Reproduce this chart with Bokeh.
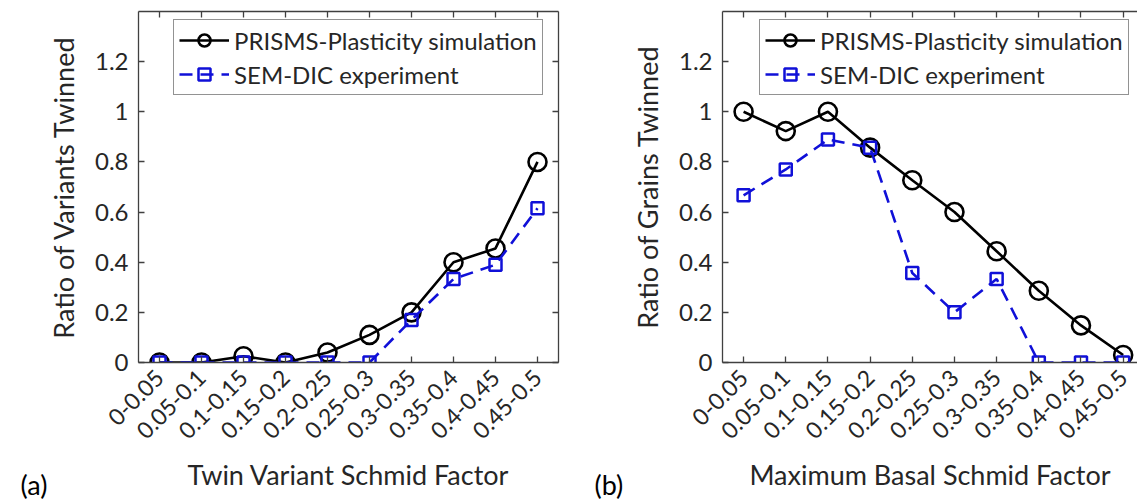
import math
from bokeh.plotting import figure
from bokeh.models import FixedTicker, LinearAxis, Range1d, Legend, LegendItem, Title
from bokeh.layouts import row
from bokeh.embed import file_html
from bokeh.resources import INLINE

# ---------------- data ----------------
categories = ["0-0.05", "0.05-0.1", "0.1-0.15", "0.15-0.2", "0.2-0.25",
              "0.25-0.3", "0.3-0.35", "0.35-0.4", "0.4-0.45", "0.45-0.5"]
x_pos = list(range(1, len(categories) + 1))

a_sim = [0, 0, 0.025, 0, 0.04, 0.11, 0.2, 0.4, 0.455, 0.8]
a_exp = [0, 0, 0, 0, 0, 0, 0.17, 0.333, 0.39, 0.615]
b_sim = [1.0, 0.923, 1.0, 0.857, 0.727, 0.6, 0.444, 0.286, 0.148, 0.03]
b_exp = [0.667, 0.77, 0.889, 0.857, 0.357, 0.2, 0.333, 0, 0, 0]

y_ticks = [0, 0.2, 0.4, 0.6, 0.8, 1.0, 1.2]
y_tick_labels = ["0", "0.2", "0.4", "0.6", "0.8", "1", "1.2"]
series_names = ["PRISMS-Plasticity simulation", "SEM-DIC experiment"]

FONT = "Lato"
TXT = "#262626"
AX = "#404040"
BLUE = "#1010d8"


def style_axis(ax, labels=True):
    ax.axis_line_color = AX
    ax.axis_line_width = 1.3
    ax.major_tick_line_color = AX
    ax.major_tick_line_width = 1.3
    ax.major_tick_in = 6
    ax.major_tick_out = 0
    ax.minor_tick_line_color = None
    ax.major_label_text_font = FONT
    ax.major_label_text_color = TXT
    ax.axis_label_text_font = FONT
    ax.axis_label_text_color = TXT
    ax.axis_label_text_font_style = "normal"
    if not labels:
        ax.major_label_text_color = None
        ax.major_label_text_font_size = "1px"
        ax.major_label_standoff = 0


def make_panel(sim, exp, xlabel, ylabel, tag, tag_offset, width, border_left,
               border_right, x_end, right_axis, legend_left):
    p = figure(width=width, height=504, output_backend="svg",
               toolbar_location=None, x_range=Range1d(0.5, x_end),
               y_range=Range1d(0, 1.4), min_border_left=border_left,
               min_border_right=border_right, min_border_top=11,
               min_border_bottom=142, outline_line_color=None)
    p.xgrid.visible = False
    p.ygrid.visible = False
    p.background_fill_color = "white"
    p.border_fill_color = "white"

    xt = FixedTicker(ticks=x_pos)
    yt = FixedTicker(ticks=y_ticks)

    xa = p.xaxis[0]
    xa.ticker = xt
    xa.major_label_overrides = {x: c for x, c in zip(x_pos, categories)}
    style_axis(xa)
    xa.major_label_orientation = math.pi / 4
    xa.major_label_text_font_size = "23px"
    xa.major_label_standoff = 11
    xa.axis_label = xlabel
    xa.axis_label_text_font_size = "27px"
    xa.axis_label_standoff = 9

    ya = p.yaxis[0]
    ya.ticker = yt
    ya.major_label_overrides = {t: l for t, l in zip(y_ticks, y_tick_labels)}
    ya.axis_label = ylabel
    style_axis(ya)
    ya.major_label_text_font_size = "24px"
    ya.major_label_standoff = 10
    ya.axis_label_text_font_size = "27px"
    ya.axis_label_standoff = 12

    top = LinearAxis(ticker=xt)
    style_axis(top, labels=False)
    p.add_layout(top, "above")
    if right_axis:
        rgt = LinearAxis(ticker=yt)
        style_axis(rgt, labels=False)
        p.add_layout(rgt, "right")

    l1 = p.line(x_pos, sim, line_color="black", line_width=2.6)
    m1 = p.scatter(x_pos, sim, marker="circle", size=18, fill_color=None,
                   line_color="black", line_width=2.6)
    l2 = p.line(x_pos, exp, line_color=BLUE, line_width=2.6, line_dash="13 8")
    m2 = p.scatter(x_pos, exp, marker="square", size=12, fill_color=None,
                   line_color=BLUE, line_width=2.5)

    legend = Legend(items=[LegendItem(label=series_names[0], renderers=[l1, m1]),
                           LegendItem(label=series_names[1], renderers=[l2, m2])],
                    location=(legend_left, 267),
                    label_text_font=FONT, label_text_font_size="24px",
                    label_text_color=TXT, glyph_width=50, glyph_height=30,
                    label_height=30, label_standoff=5, spacing=4, padding=5,
                    margin=0, border_line_color=TXT, border_line_width=1.2,
                    background_fill_color="white", background_fill_alpha=1)
    p.add_layout(legend, "center")

    p.add_layout(Title(text=tag, align="left", vertical_align="top",
                       offset=tag_offset, standoff=-54, text_font=FONT,
                       text_font_size="27px", text_color="black",
                       text_font_style="normal"), "below")
    return p


pa = make_panel(a_sim, a_exp, "Twin Variant Schmid Factor",
                "Ratio of Variants Twinned", "(a)", -118, 588, 138, 30, 10.5,
                True, 35)
pb = make_panel(b_sim, b_exp, "Maximum Basal Schmid Factor",
                "Ratio of Grains Twinned", "(b)", -128, 549, 134, 0, 10.34,
                False, 37)

layout = row(pa, pb, spacing=0)
open("out.html", "w").write(file_html(layout, INLINE))
